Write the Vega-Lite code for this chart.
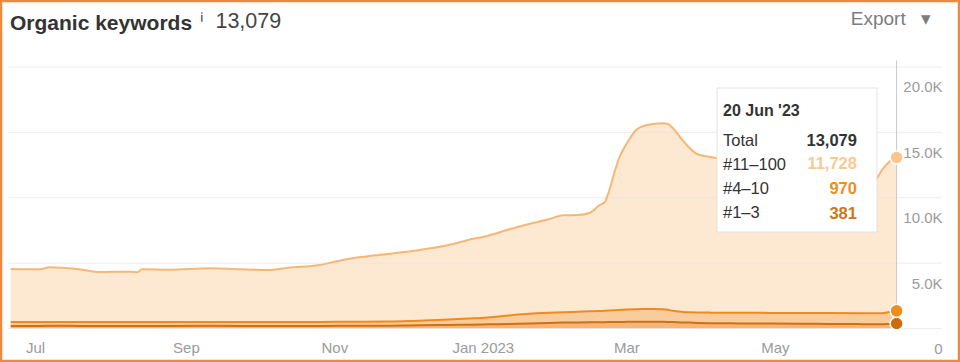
{
  "$schema": "https://vega.github.io/schema/vega-lite/v6.json",
  "width": 960,
  "height": 362,
  "autosize": {"type": "none"},
  "padding": 0,
  "background": "#ffffff",
  "config": {"font": "Liberation Sans", "view": {"stroke": "#f0883e", "strokeWidth": 4.5}},
  "title": {"text": "Organic keywords", "anchor": "start", "frame": "group", "offset": -51, "dx": 10, "fontSize": 21, "fontWeight": "bold", "color": "#333333", "baseline": "alphabetic", "font": "Liberation Sans"},
  "datasets": {
    "kw": [
      {"date": "2022-06-21", "s1": 200, "s2": 300, "s3": 4051},
      {"date": "2022-07-03", "s1": 200, "s2": 300, "s3": 4028},
      {"date": "2022-07-07", "s1": 202, "s2": 303, "s3": 4176},
      {"date": "2022-07-12", "s1": 202, "s2": 303, "s3": 4145},
      {"date": "2022-07-19", "s1": 200, "s2": 300, "s3": 4028},
      {"date": "2022-07-28", "s1": 198, "s2": 297, "s3": 3826},
      {"date": "2022-08-09", "s1": 198, "s2": 297, "s3": 3849},
      {"date": "2022-08-12", "s1": 198, "s2": 297, "s3": 3803},
      {"date": "2022-08-14", "s1": 200, "s2": 300, "s3": 4028},
      {"date": "2022-08-25", "s1": 200, "s2": 300, "s3": 3997},
      {"date": "2022-09-11", "s1": 202, "s2": 303, "s3": 4099},
      {"date": "2022-09-23", "s1": 200, "s2": 305, "s3": 4023},
      {"date": "2022-10-05", "s1": 200, "s2": 300, "s3": 3974},
      {"date": "2022-10-13", "s1": 200, "s2": 305, "s3": 4145},
      {"date": "2022-10-26", "s1": 200, "s2": 305, "s3": 4351},
      {"date": "2022-11-03", "s1": 202, "s2": 308, "s3": 4675},
      {"date": "2022-11-11", "s1": 205, "s2": 310, "s3": 4930},
      {"date": "2022-11-23", "s1": 215, "s2": 315, "s3": 5168},
      {"date": "2022-12-06", "s1": 240, "s2": 350, "s3": 5414},
      {"date": "2022-12-18", "s1": 270, "s2": 410, "s3": 5706},
      {"date": "2022-12-26", "s1": 290, "s2": 470, "s3": 6008},
      {"date": "2023-01-03", "s1": 320, "s2": 530, "s3": 6247},
      {"date": "2023-01-12", "s1": 350, "s2": 650, "s3": 6587},
      {"date": "2023-01-20", "s1": 390, "s2": 730, "s3": 6872},
      {"date": "2023-01-28", "s1": 420, "s2": 780, "s3": 7152},
      {"date": "2023-02-03", "s1": 450, "s2": 795, "s3": 7412},
      {"date": "2023-02-09", "s1": 465, "s2": 815, "s3": 7400},
      {"date": "2023-02-14", "s1": 470, "s2": 840, "s3": 7546},
      {"date": "2023-02-18", "s1": 480, "s2": 860, "s3": 8105},
      {"date": "2023-02-20", "s1": 485, "s2": 875, "s3": 8292},
      {"date": "2023-02-22", "s1": 490, "s2": 890, "s3": 9212},
      {"date": "2023-02-24", "s1": 495, "s2": 905, "s3": 10493},
      {"date": "2023-02-26", "s1": 500, "s2": 920, "s3": 11620},
      {"date": "2023-02-28", "s1": 505, "s2": 935, "s3": 12365},
      {"date": "2023-03-02", "s1": 510, "s2": 950, "s3": 12956},
      {"date": "2023-03-05", "s1": 515, "s2": 960, "s3": 13706},
      {"date": "2023-03-08", "s1": 520, "s2": 965, "s3": 14002},
      {"date": "2023-03-12", "s1": 520, "s2": 970, "s3": 14150},
      {"date": "2023-03-16", "s1": 515, "s2": 955, "s3": 14224},
      {"date": "2023-03-18", "s1": 505, "s2": 925, "s3": 14210},
      {"date": "2023-03-20", "s1": 490, "s2": 860, "s3": 13984},
      {"date": "2023-03-24", "s1": 465, "s2": 805, "s3": 13146},
      {"date": "2023-03-27", "s1": 450, "s2": 790, "s3": 12565},
      {"date": "2023-03-30", "s1": 430, "s2": 795, "s3": 12121},
      {"date": "2023-04-04", "s1": 410, "s2": 805, "s3": 11924},
      {"date": "2023-04-07", "s1": 400, "s2": 810, "s3": 11830},
      {"date": "2023-04-16", "s1": 390, "s2": 815, "s3": 11682},
      {"date": "2023-04-29", "s1": 375, "s2": 820, "s3": 11462},
      {"date": "2023-05-11", "s1": 365, "s2": 820, "s3": 11090},
      {"date": "2023-05-23", "s1": 350, "s2": 828, "s3": 10791},
      {"date": "2023-06-05", "s1": 335, "s2": 835, "s3": 10340},
      {"date": "2023-06-11", "s1": 325, "s2": 840, "s3": 10192},
      {"date": "2023-06-14", "s1": 320, "s2": 850, "s3": 10952},
      {"date": "2023-06-17", "s1": 345, "s2": 915, "s3": 11497},
      {"date": "2023-06-20", "s1": 381, "s2": 970, "s3": 11728}
    ],
    "grid": [{"v": 0}, {"v": 5000}, {"v": 10000}, {"v": 15000}, {"v": 20000}],
    "one": [{"k": 1}]
  },
  "layer": [
    {
      "data": {"name": "kw"},
      "transform": [
        {"fold": ["s1", "s2", "s3"], "as": ["series", "count"]},
        {"stack": "count", "groupby": ["date"], "sort": [{"field": "series", "order": "ascending"}], "as": ["lo", "hi"]}
      ],
      "mark": {"type": "area", "interpolate": "monotone"},
      "encoding": {
        "x": {
          "field": "date", "type": "temporal",
          "scale": {"type": "utc", "domain": [{"year": 2022, "month": 6, "date": 16, "hours": 15, "utc": true}, {"year": 2023, "month": 7, "date": 16, "hours": 1, "utc": true}]},
          "axis": {
            "orient": "bottom", "offset": -15,
            "values": [{"year": 2022, "month": 7, "date": 1, "utc": true}, {"year": 2022, "month": 9, "date": 1, "utc": true}, {"year": 2022, "month": 11, "date": 1, "utc": true}, {"year": 2023, "month": 1, "date": 1, "utc": true}, {"year": 2023, "month": 3, "date": 1, "utc": true}, {"year": 2023, "month": 5, "date": 1, "utc": true}],
            "labelExpr": "utcmonth(datum.value) == 0 ? utcFormat(datum.value, '%b %Y') : utcFormat(datum.value, '%b')",
            "labelBaseline": "middle", "labelAlign": "center", "labelPadding": 0, "ticks": false, "tickSize": 0, "domain": false, "grid": false,
            "labelFontSize": 15, "labelColor": "#9b9b9b", "labelFont": "Liberation Sans", "labelOverlap": false, "labelFlush": false,
            "title": "Export\u00a0\u00a0\u00a0▾", "titleX": 931, "titleY": -323, "titleAlign": "right", "titleBaseline": "alphabetic", "titleAngle": 0,
            "titleFontSize": 19, "titleFontWeight": "normal", "titleColor": "#7c7c7c", "titleFont": "Liberation Sans"
          }
        },
        "y": {
          "field": "hi", "type": "quantitative", "stack": null,
          "scale": {"domain": [-2562, 25124], "nice": false, "zero": false},
          "axis": {
            "orient": "right", "offset": -18,
            "values": [0, 5000, 10000, 15000, 20000],
            "labelExpr": "datum.value == 0 ? '0' : format(datum.value / 1000, '.1f') + 'K'",
            "labelAlign": "right", "labelBaseline": "top", "labelOffset": 13, "labelPadding": 0, "ticks": false, "tickSize": 0, "domain": false, "grid": false,
            "labelFontSize": 15, "labelColor": "#9b9b9b", "labelFont": "Liberation Sans", "labelOverlap": false, "labelFlush": false,
            "title": "ⁱ\u00a0\u00a013,079", "titleX": -743, "titleY": 27, "titleAlign": "left", "titleBaseline": "alphabetic", "titleAngle": 0,
            "titleFontSize": 21.5, "titleFontWeight": "normal", "titleColor": "#454545", "titleFont": "Liberation Sans"
          }
        },
        "y2": {"field": "lo"},
        "fill": {"field": "series", "type": "nominal", "scale": {"domain": ["s1", "s2", "s3"], "range": ["#f5b67b", "#f9cc9e", "#fde8d2"]}, "legend": null}
      }
    },
    {
      "data": {"name": "grid"},
      "mark": {"type": "rule", "color": "#e6e6e6", "strokeWidth": 1, "opacity": 0.7},
      "encoding": {
        "y": {"field": "v", "type": "quantitative"},
        "x": {"datum": {"year": 2022, "month": 6, "date": 19, "hours": 22, "utc": true}, "type": "temporal"},
        "x2": {"datum": {"year": 2023, "month": 7, "date": 8, "hours": 14, "utc": true}}
      }
    },
    {
      "data": {"name": "kw"},
      "transform": [
        {"fold": ["s1", "s2", "s3"], "as": ["series", "count"]},
        {"stack": "count", "groupby": ["date"], "sort": [{"field": "series", "order": "ascending"}], "as": ["lo", "hi"]}
      ],
      "mark": {"type": "line", "interpolate": "monotone", "strokeWidth": 2},
      "encoding": {
        "x": {"field": "date", "type": "temporal"},
        "y": {"field": "hi", "type": "quantitative"},
        "stroke": {"field": "series", "type": "nominal", "scale": {"domain": ["s1", "s2", "s3"], "range": ["#d2700c", "#f08a1a", "#f6b776"]}, "legend": null}
      }
    },
    {
      "data": {"name": "one"},
      "mark": {"type": "rule", "color": "#c8c8c8", "strokeWidth": 1},
      "encoding": {
        "x": {"datum": {"year": 2023, "month": 6, "date": 20, "utc": true}, "type": "temporal"},
        "y": {"datum": 0, "type": "quantitative"},
        "y2": {"datum": 20500}
      }
    },
    {
      "data": {"name": "kw"},
      "transform": [
        {"fold": ["s1", "s2", "s3"], "as": ["series", "count"]},
        {"stack": "count", "groupby": ["date"], "sort": [{"field": "series", "order": "ascending"}], "as": ["lo", "hi"]},
        {"filter": "utcyear(datum.date) == 2023 && utcmonth(datum.date) == 5 && utcdate(datum.date) == 20"}
      ],
      "mark": {"type": "point", "filled": true, "size": 170, "stroke": "#ffffff", "strokeWidth": 1.5, "opacity": 1},
      "encoding": {
        "x": {"field": "date", "type": "temporal"},
        "y": {"field": "hi", "type": "quantitative"},
        "color": {"field": "series", "type": "nominal", "scale": {"domain": ["s1", "s2", "s3"], "range": ["#cc6c0c", "#f08c1c", "#fbc68e"]}, "legend": null}
      }
    },
    {
      "data": {"name": "one"},
      "mark": {"type": "rect", "fill": "#ffffff", "stroke": "#e2e2e2", "strokeWidth": 1},
      "encoding": {
        "x": {"datum": {"year": 2023, "month": 4, "date": 7, "hours": 5, "utc": true}, "type": "temporal"},
        "x2": {"datum": {"year": 2023, "month": 6, "date": 11, "hours": 22, "utc": true}},
        "y": {"datum": 18393, "type": "quantitative"},
        "y2": {"datum": 7380}
      }
    },
    {
      "data": {"name": "one"},
      "mark": {"type": "text", "align": "left", "baseline": "middle", "fontSize": 16, "fontWeight": "bold", "color": "#333333", "font": "Liberation Sans"},
      "encoding": {
        "x": {"datum": {"year": 2023, "month": 4, "date": 9, "hours": 16, "utc": true}, "type": "temporal"},
        "y": {"datum": 16650, "type": "quantitative"},
        "text": {"value": "20 Jun '23"}
      }
    },
    {
      "data": {"name": "one"},
      "mark": {"type": "text", "align": "left", "baseline": "middle", "fontSize": 16.5, "lineHeight": 24, "color": "#333333", "font": "Liberation Sans"},
      "encoding": {
        "x": {"datum": {"year": 2023, "month": 4, "date": 9, "hours": 16, "utc": true}, "type": "temporal"},
        "y": {"datum": 14302, "type": "quantitative"},
        "text": {"value": ["Total", "#11–100", "#4–10", "#1–3"]}
      }
    },
    {
      "data": {"name": "one"},
      "mark": {"type": "text", "align": "right", "baseline": "middle", "fontSize": 16.5, "fontWeight": "bold", "color": "#333333", "font": "Liberation Sans"},
      "encoding": {
        "x": {"datum": {"year": 2023, "month": 6, "date": 3, "hours": 17, "utc": true}, "type": "temporal"},
        "y": {"datum": 14302, "type": "quantitative"},
        "text": {"value": "13,079"}
      }
    },
    {
      "data": {"name": "one"},
      "mark": {"type": "text", "align": "right", "baseline": "middle", "fontSize": 16.5, "fontWeight": "bold", "color": "#f9c993", "font": "Liberation Sans"},
      "encoding": {
        "x": {"datum": {"year": 2023, "month": 6, "date": 3, "hours": 17, "utc": true}, "type": "temporal"},
        "y": {"datum": 12543, "type": "quantitative"},
        "text": {"value": "11,728"}
      }
    },
    {
      "data": {"name": "one"},
      "mark": {"type": "text", "align": "right", "baseline": "middle", "fontSize": 16.5, "fontWeight": "bold", "color": "#ef8d1e", "font": "Liberation Sans"},
      "encoding": {
        "x": {"datum": {"year": 2023, "month": 6, "date": 3, "hours": 17, "utc": true}, "type": "temporal"},
        "y": {"datum": 10707, "type": "quantitative"},
        "text": {"value": "970"}
      }
    },
    {
      "data": {"name": "one"},
      "mark": {"type": "text", "align": "right", "baseline": "middle", "fontSize": 16.5, "fontWeight": "bold", "color": "#cf7716", "font": "Liberation Sans"},
      "encoding": {
        "x": {"datum": {"year": 2023, "month": 6, "date": 3, "hours": 17, "utc": true}, "type": "temporal"},
        "y": {"datum": 8795, "type": "quantitative"},
        "text": {"value": "381"}
      }
    }
  ]
}
